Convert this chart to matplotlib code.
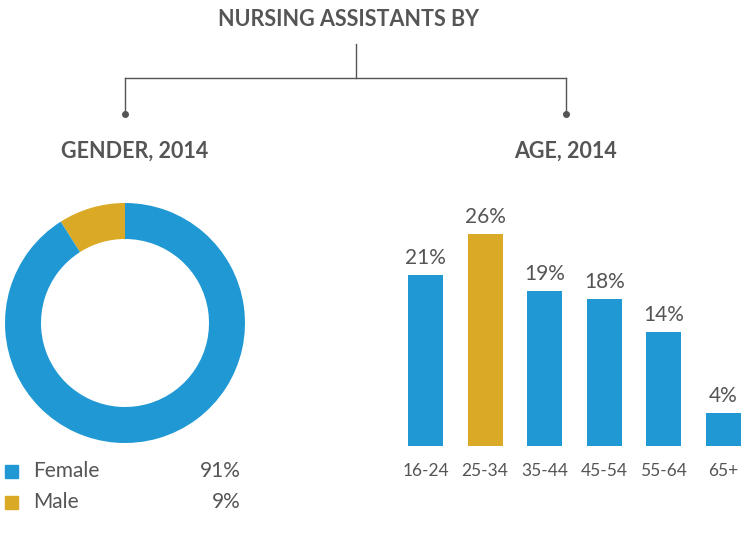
import matplotlib
matplotlib.use("Agg")
import matplotlib.pyplot as plt
from matplotlib.lines import Line2D
from matplotlib.patches import Rectangle

# ---- data ----
gender_labels = ["Female", "Male"]
gender_values = [91, 9]
age_labels = ["16-24", "25-34", "35-44", "45-54", "55-64", "65+"]
age_values = [21, 26, 19, 18, 14, 4]

BLUE = "#1F98D4"
GOLD = "#DAAA27"
GRAY = "#555555"
FONT = "Lato"

W, H = 742, 542
fig = plt.figure(figsize=(W / 100, H / 100), dpi=100)
plt.rcParams['font.family'] = [FONT, 'DejaVu Sans']


def fx(x):
    return x / W


def fy(y):
    return 1 - y / H


def axes_px(x0, y0, x1, y1):
    # pixel box (top-left origin) -> axes
    return fig.add_axes([fx(x0), fy(y1), (x1 - x0) / W, (y1 - y0) / H])


# ---- header and connector lines ----
fig.text(fx(348), fy(20), "NURSING ASSISTANTS BY", ha="center", va="center",
         fontsize=15.5, fontweight="bold", color=GRAY)
lc = "#555555"
fig.add_artist(Line2D([fx(356), fx(356)], [fy(44), fy(78)], color=lc, lw=1.0))
fig.add_artist(Line2D([fx(125), fx(566)], [fy(78), fy(78)], color=lc, lw=1.0))
fig.add_artist(Line2D([fx(125), fx(125)], [fy(78), fy(114)], color=lc, lw=1.0))
fig.add_artist(Line2D([fx(566), fx(566)], [fy(78), fy(114)], color=lc, lw=1.0))
for xx in (125, 566):
    fig.add_artist(Line2D([fx(xx)], [fy(114)], marker="o", ms=4, color=lc))

fig.text(fx(135), fy(151), "GENDER, 2014", ha="center", va="center",
         fontsize=15.5, fontweight="bold", color=GRAY)
fig.text(fx(565), fy(151), "AGE, 2014", ha="center", va="center",
         fontsize=15.5, fontweight="bold", color=GRAY)

# ---- donut ----
cx, cy, R = 125, 323, 120
axp = axes_px(cx - R, cy - R, cx + R, cy + R)
axp.pie(gender_values[::-1], colors=[GOLD, BLUE], startangle=90, counterclock=True,
        radius=1.0, wedgeprops=dict(width=0.3, edgecolor="none"))
axp.set_xlim(-1, 1)
axp.set_ylim(-1, 1)
axp.set_aspect("equal")
axp.axis("off")

# ---- legend ----
leg_colors = [BLUE, GOLD]
for i, (lab, val) in enumerate(zip(gender_labels, gender_values)):
    yc = 471 + i * 31
    fig.add_artist(Rectangle((fx(5), fy(yc + 7)), 13 / W, 13 / H, color=leg_colors[i],
                             transform=fig.transFigure))
    fig.text(fx(33), fy(yc), lab, ha="left", va="center", fontsize=15, color=GRAY)
    fig.text(fx(241), fy(yc), f"{val}%", ha="right", va="center", fontsize=15, color=GRAY)

# ---- bars ----
step = 59.6
c0 = 425.5
scale = 8.15  # px per %
ymax = 30
axb = axes_px(400, 446 - ymax * scale, 742, 446)
xs = list(range(len(age_values)))
bar_colors = [GOLD if l == "25-34" else BLUE for l in age_labels]
axb.bar(xs, age_values, width=35 / step, color=bar_colors)
axb.set_xlim((400 - c0) / step, (742 - c0) / step)
axb.set_ylim(0, ymax)
for x, v in zip(xs, age_values):
    axb.annotate(f"{v}%", (x, v), xytext=(0, 5), textcoords="offset points",
                 ha="center", va="bottom", fontsize=15, color=GRAY)
axb.set_xticks(xs)
axb.set_xticklabels(age_labels, fontsize=12.5, color=GRAY)
axb.tick_params(axis="x", length=0, pad=12)
axb.set_yticks([])
for s in axb.spines.values():
    s.set_visible(False)
axb.patch.set_alpha(0)

fig.savefig("out.png", dpi=100)
